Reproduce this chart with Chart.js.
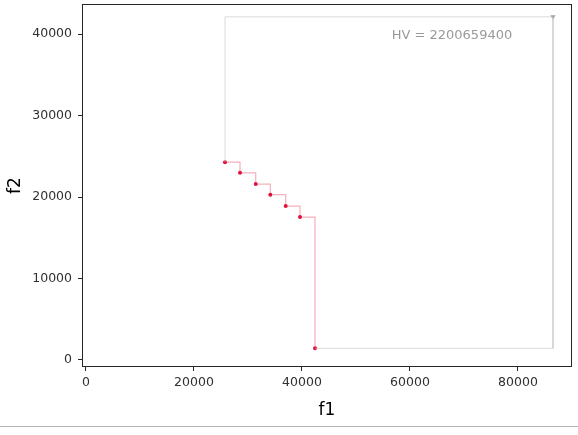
<!DOCTYPE html>
<html>
<head>
<meta charset="utf-8">
<script src="https://cdn.jsdelivr.net/npm/chart.js@4/dist/chart.umd.min.js"></script>
<style>
    body { margin: 0; background: #fff; }
    #wrap { position: relative; width: 578px; height: 426px; }
    #rule { width: 578px; height: 9px; border-top: 1px solid #b4b4b4; }
</style>
</head>
<body>
<div id="wrap"><canvas id="chart" width="578" height="426"></canvas></div>
<div id="rule"></div>
<script>
// pontos da frente de pareto (minimizacao)
const f1Points = [25740, 28520, 31430, 34130, 36980, 39630, 42410];
const f2Points = [24280, 22980, 21590, 20290, 18890, 17550, 1430];
const refPoint = [86480, 42120];
const hvLabel = 'HV = 2200659400';
const xTicks = [0, 20000, 40000, 60000, 80000];
const yTicks = [0, 10000, 20000, 30000, 40000];

const front = f1Points.map((x, i) => ({ x: x, y: f2Points[i] }));
const last = front.length - 1;

// contorno da regiao do hipervolume
const hvBox = [
    { x: f1Points[0], y: f2Points[0] },
    { x: f1Points[0], y: refPoint[1] },
    { x: refPoint[0], y: refPoint[1] },
    { x: refPoint[0], y: f2Points[last] },
    { x: f1Points[last], y: f2Points[last] }
];

const frame = {
    id: 'frame',
    afterDraw(chart) {
        const { ctx, chartArea: a } = chart;
        ctx.save();
        ctx.strokeStyle = '#262626';
        ctx.lineWidth = 1;
        ctx.strokeRect(a.left + 0.5, a.top + 0.5, a.right - a.left - 1, a.bottom - a.top - 1);
        // texto do HV
        ctx.fillStyle = '#9a9a9a';
        ctx.font = '13px "DejaVu Sans"';
        ctx.textAlign = 'center';
        ctx.textBaseline = 'middle';
        ctx.fillText(hvLabel, a.left + (a.right - a.left) * 0.755, a.top + (a.bottom - a.top) * 0.088);
        ctx.restore();
    }
};

const tickFont = { family: 'DejaVu Sans', size: 12.5 };
const plain = (v) => String(v);

new Chart(document.getElementById('chart'), {
    type: 'scatter',
    data: {
        datasets: [
            {
                data: hvBox,
                showLine: true,
                borderColor: 'rgba(195,195,195,0.6)',
                borderWidth: 1,
                pointRadius: 0
            },
            {
                data: front,
                showLine: true,
                stepped: 'before',
                borderColor: 'rgba(235,110,135,0.55)',
                borderWidth: 1.2,
                pointRadius: 2,
                pointBackgroundColor: '#e3103c',
                pointBorderWidth: 0
            },
            {
                data: [{ x: refPoint[0], y: refPoint[1] }],
                pointStyle: 'triangle',
                rotation: 180,
                pointRadius: 3,
                pointBackgroundColor: '#a0a0a0',
                pointBorderWidth: 0
            }
        ]
    },
    options: {
        responsive: false,
        animation: false,
        layout: { padding: { top: 3, right: 6, left: 0, bottom: 0 } },
        plugins: { legend: { display: false }, tooltip: { enabled: false } },
        scales: {
            x: {
                type: 'linear',
                min: -740,
                max: 90000,
                afterBuildTicks: (s) => { s.ticks = xTicks.map(v => ({ value: v })); },
                afterFit: (s) => { s.height = 59; s.paddingLeft = 0; s.paddingRight = 0; },
                border: { display: false },
                grid: { drawOnChartArea: false, tickLength: 4, color: '#262626' },
                ticks: { font: tickFont, color: '#303030', padding: 4, maxRotation: 0, callback: plain },
                title: { display: true, text: 'f1', color: '#000', font: { family: 'DejaVu Sans', size: 17 }, padding: { top: 0, bottom: 5 } }
            },
            y: {
                type: 'linear',
                min: -860,
                max: 43700,
                afterBuildTicks: (s) => { s.ticks = yTicks.map(v => ({ value: v })); },
                afterFit: (s) => { s.width = 82; s.paddingTop = 0; s.paddingBottom = 0; },
                border: { display: false },
                grid: { drawOnChartArea: false, tickLength: 4, color: '#262626' },
                ticks: { font: tickFont, color: '#303030', padding: 6, callback: plain },
                title: { display: true, text: 'f2', color: '#000', font: { family: 'DejaVu Sans', size: 17 }, padding: { top: 5, bottom: 0 } }
            }
        }
    },
    plugins: [frame]
});
</script>
</body>
</html>
